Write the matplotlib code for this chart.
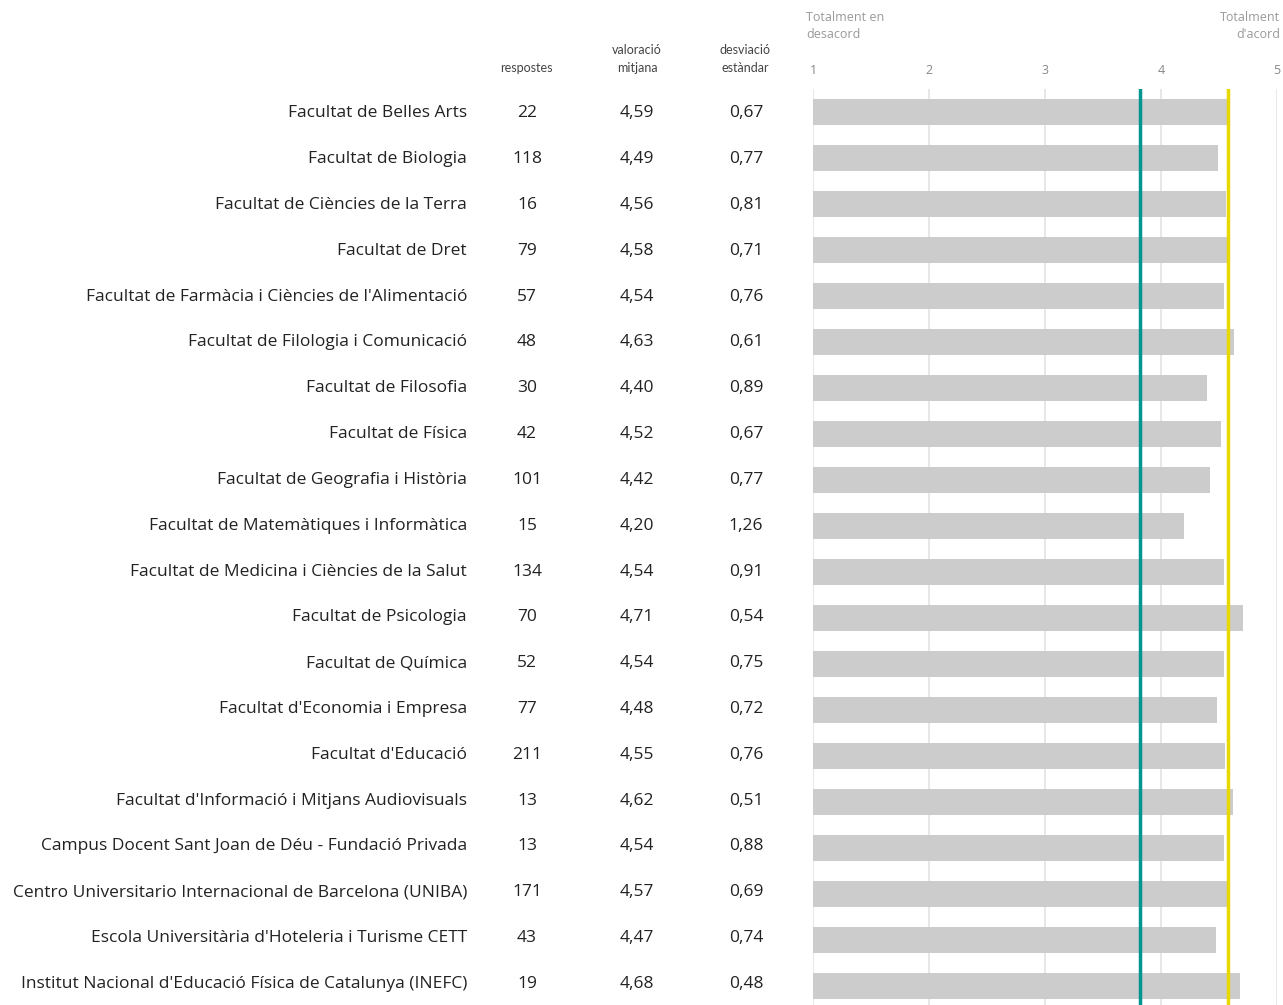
import matplotlib.pyplot as plt
from matplotlib.transforms import blended_transform_factory

# data
centres = [
    "Facultat de Belles Arts",
    "Facultat de Biologia",
    "Facultat de Ciències de la Terra",
    "Facultat de Dret",
    "Facultat de Farmàcia i Ciències de l'Alimentació",
    "Facultat de Filologia i Comunicació",
    "Facultat de Filosofia",
    "Facultat de Física",
    "Facultat de Geografia i Història",
    "Facultat de Matemàtiques i Informàtica",
    "Facultat de Medicina i Ciències de la Salut",
    "Facultat de Psicologia",
    "Facultat de Química",
    "Facultat d'Economia i Empresa",
    "Facultat d'Educació",
    "Facultat d'Informació i Mitjans Audiovisuals",
    "Campus Docent Sant Joan de Déu - Fundació Privada",
    "Centro Universitario Internacional de Barcelona (UNIBA)",
    "Escola Universitària d'Hoteleria i Turisme CETT",
    "Institut Nacional d'Educació Física de Catalunya (INEFC)",
]
respostes = [22, 118, 16, 79, 57, 48, 30, 42, 101, 15, 134, 70, 52, 77, 211, 13, 13, 171, 43, 19]
mitjana = [4.59, 4.49, 4.56, 4.58, 4.54, 4.63, 4.40, 4.52, 4.42, 4.20,
           4.54, 4.71, 4.54, 4.48, 4.55, 4.62, 4.54, 4.57, 4.47, 4.68]
desviacio = [0.67, 0.77, 0.81, 0.71, 0.76, 0.61, 0.89, 0.67, 0.77, 1.26,
             0.91, 0.54, 0.75, 0.72, 0.76, 0.51, 0.88, 0.69, 0.74, 0.48]
ref_teal = 3.82
ref_yellow = 4.58
scale_ticks = [1, 2, 3, 4, 5]

W, H = 1283, 1005
fig = plt.figure(figsize=(W / 100, H / 100), dpi=100)

# bar axis: x=1 at 813px, x=5 at 1277px; rows start at 112px, 46px apart
step = 46.0
ax = fig.add_axes([813 / W, 0, (1277 - 813) / W, (H - 89) / H])
n = len(centres)
ypos = list(range(n))
ax.set_xlim(1, 5)
ax.set_ylim((H - 112) / step, -23 / step)

for t in scale_ticks:
    ax.axvline(t, color="#e3e3e3", lw=1.2, zorder=0)
ax.barh(ypos, [m - 1 for m in mitjana], left=1, height=0.576, color="#cccccc", zorder=1)
ax.axvline(ref_teal, color="#00968f", lw=2.5, zorder=3)
ax.axvline(ref_yellow, color="#e6d800", lw=2.5, zorder=3)

for s in ax.spines.values():
    s.set_visible(False)
ax.set_xticks([])
ax.set_yticks([])

fnt = ["Open Sans", "DejaVu Sans"]
tr = blended_transform_factory(fig.transFigure, ax.transData)
dy = 0.03
for i in range(n):
    y = i + dy - i * 0.004
    ax.text(467 / W, y, centres[i], transform=tr, ha="right", va="center",
            fontsize=12.5, family=fnt, color="#222222", clip_on=False)
    ax.text(527 / W, y, str(respostes[i]), transform=tr, ha="center", va="center",
            fontsize=12.5, family=fnt, color="#222222", clip_on=False)
    ax.text(637 / W, y, f"{mitjana[i]:.2f}".replace(".", ","), transform=tr, ha="center",
            va="center", fontsize=12.5, family=fnt, color="#222222", clip_on=False)
    ax.text(746 / W, y, f"{desviacio[i]:.2f}".replace(".", ","), transform=tr, ha="center",
            va="center", fontsize=12.5, family=fnt, color="#222222", clip_on=False)

# headers
hdr = dict(ha="center", va="center", fontsize=9, family=["Lato", "DejaVu Sans"],
           color="#444444", linespacing=1.55)
fig.text(526 / W, 1 - 68 / H, "respostes", **hdr)
fig.text(637 / W, 1 - 59 / H, "valoració\nmitjana", **hdr)
fig.text(745 / W, 1 - 59 / H, "desviació\nestàndar", **hdr)

trx = blended_transform_factory(ax.transData, fig.transFigure)
for t in scale_ticks:
    ax.text(t, 1 - 70 / H, str(t), transform=trx, ha="center", va="center",
            fontsize=9, family=fnt, color="#888888", clip_on=False)
fig.text(806 / W, 1 - 26 / H, "Totalment en\ndesacord", ha="left", va="center",
         fontsize=9, family=fnt, color="#999999", linespacing=1.45)
fig.text(1280 / W, 1 - 26 / H, "Totalment\nd'acord", ha="right", va="center",
         fontsize=9, family=fnt, color="#999999", linespacing=1.45)

fig.savefig("out.png", dpi=100)
